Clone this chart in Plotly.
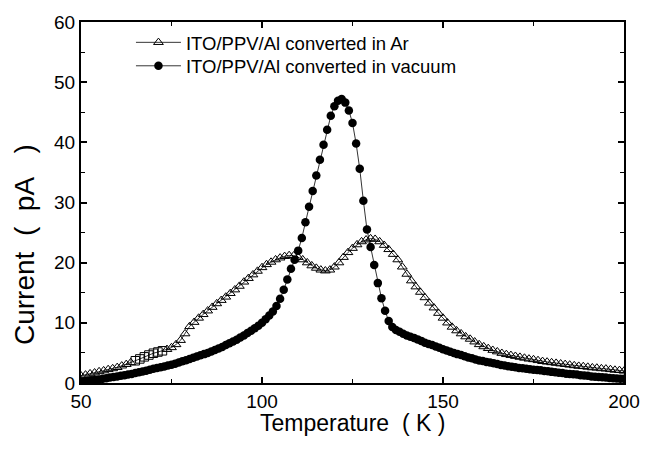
import plotly.graph_objects as go

# ---------------- data ----------------
temp_vac = list(range(50, 201))  # K, 1 K step
cur_vac = [
    0.25, 0.30, 0.38, 0.45, 0.53, 0.60, 0.70, 0.80, 0.90, 1.00,   # 50-59
    1.10, 1.20, 1.30, 1.40, 1.50, 1.65, 1.80, 1.90, 2.05, 2.20,   # 60-69
    2.35, 2.50, 2.60, 2.75, 2.90, 3.05, 3.20, 3.40, 3.60, 3.80,   # 70-79
    4.00, 4.20, 4.40, 4.60, 4.80, 5.00, 5.25, 5.50, 5.75, 6.00,   # 80-89
    6.30, 6.60, 6.90, 7.20, 7.55, 7.90, 8.30, 8.70, 9.10, 9.50,   # 90-99
    10.0, 10.6, 11.2, 11.9, 12.8, 14.0, 15.5, 17.2, 19.0, 20.5,   # 100-109
    22.0, 24.1, 26.7, 29.3, 31.9, 34.5, 37.1, 39.6, 42.1, 44.4,   # 110-119
    46.0, 46.9, 47.2, 46.6, 45.3, 43.2, 39.8, 35.6, 30.3, 25.5,   # 120-129
    22.6, 19.6, 16.6, 14.1, 12.0, 10.3, 9.3, 8.8, 8.5, 8.2,       # 130-139
    7.9, 7.7, 7.5, 7.25, 7.0, 6.7, 6.5, 6.3, 6.05, 5.85,          # 140-149
    5.6, 5.4, 5.2, 5.0, 4.8, 4.65, 4.45, 4.25, 4.1, 3.9,          # 150-159
    3.75, 3.65, 3.5, 3.4, 3.3, 3.15, 3.0, 2.9, 2.8, 2.7,          # 160-169
    2.6, 2.5, 2.45, 2.35, 2.3, 2.2, 2.15, 2.1, 2.0, 1.95,         # 170-179
    1.85, 1.8, 1.7, 1.65, 1.55, 1.5, 1.45, 1.4, 1.3, 1.25,        # 180-189
    1.2, 1.1, 1.05, 1.0, 0.95, 0.9, 0.85, 0.8, 0.75, 0.7,         # 190-199
    0.7,                                                          # 200
]

temp_ar = [50 + 1.25 * i for i in range(121)]  # K, 1.25 K step
cur_ar = [
    1.20, 1.35, 1.55, 1.70, 1.90, 2.05, 2.25, 2.40, 2.60, 2.85,
    3.10, 3.40, 3.70, 4.00, 4.35, 4.65, 4.95, 5.15, 5.35, 5.60,
    5.90, 6.40, 7.10, 8.20, 9.40, 10.10, 10.80, 11.40, 12.00, 12.60,
    13.20, 13.75, 14.30, 14.90, 15.50, 16.10, 16.80, 17.40, 18.00, 18.60,
    19.20, 19.70, 20.10, 20.50, 20.80, 21.05, 21.20, 21.15, 20.90, 20.50,
    20.00, 19.50, 19.10, 18.80, 18.65, 18.80, 19.30, 20.00, 20.90, 21.70,
    22.40, 23.00, 23.50, 23.80, 24.00, 23.90, 23.50, 22.90, 22.20, 21.40,
    20.50, 19.30, 18.10, 17.00, 16.00, 15.10, 14.20, 13.30, 12.50, 11.60,
    10.80, 10.00, 9.30, 8.70, 8.20, 7.70, 7.30, 6.85, 6.40, 6.05,
    5.75, 5.45, 5.20, 4.95, 4.75, 4.60, 4.45, 4.30, 4.15, 4.00,
    3.90, 3.75, 3.60, 3.50, 3.40, 3.30, 3.20, 3.10, 3.00, 2.90,
    2.80, 2.75, 2.65, 2.55, 2.50, 2.40, 2.35, 2.25, 2.15, 2.10,
    2.00,
]
# points of the Ar curve drawn with square symbols in the original
square_range = (64.5, 73.0)

x_ticks = [50, 100, 150, 200]
y_ticks = [0, 10, 20, 30, 40, 50, 60]

label_ar = "ITO/PPV/Al converted in Ar"
label_vac = "ITO/PPV/Al converted in vacuum"

# ---------------- figure ----------------
FONT = "Liberation Sans, Arial, Helvetica, sans-serif"

ar_symbols = ["square-open" if square_range[0] <= t <= square_range[1] else "triangle-up-open"
              for t in temp_ar]

fig = go.Figure()
fig.add_trace(go.Scatter(
    x=temp_ar, y=cur_ar, mode="lines+markers", name=label_ar, legend="legend",
    line=dict(color="black", width=0.8),
    marker=dict(symbol=ar_symbols, size=8.5, color="black", line=dict(color="black", width=1)),
))
fig.add_trace(go.Scatter(
    x=temp_vac, y=cur_vac, mode="lines+markers", name=label_vac, legend="legend2",
    line=dict(color="black", width=0.8),
    marker=dict(symbol="circle", size=8.5, color="black", line=dict(width=0)),
))

axis_common = dict(
    showline=True, linecolor="black", linewidth=2, mirror="allticks",
    ticks="inside", ticklen=6, tickwidth=1.5, tickcolor="black",
    showgrid=False, zeroline=False,
    tickfont=dict(family=FONT, size=19, color="black"),
)

fig.update_xaxes(range=[50, 200], tickvals=x_ticks,
                 minor=dict(dtick=25, ticks="inside", ticklen=4, tickwidth=1.2, tickcolor="black"),
                 **axis_common)
fig.update_yaxes(range=[0, 60], tickvals=y_ticks,
                 minor=dict(dtick=5, ticks="inside", ticklen=4, tickwidth=1.2, tickcolor="black"),
                 **axis_common)

fig.add_annotation(text="Temperature\u00a0\u00a0(\u00a0K\u00a0)", xref="paper", yref="paper",
                   x=0.5, y=-0.112, xanchor="center", yanchor="middle", showarrow=False,
                   font=dict(family=FONT, size=23, color="black"))
fig.add_annotation(text="Current\u00a0\u00a0(\u00a0\u00a0pA\u00a0\u00a0\u00a0)", xref="paper", yref="paper",
                   x=-0.105, y=0.385, xanchor="center", yanchor="middle", textangle=-90,
                   showarrow=False, font=dict(family=FONT, size=28, color="black"))

legend_common = dict(x=0.092, xanchor="left", yanchor="top", bgcolor="rgba(0,0,0,0)",
                     font=dict(family=FONT, size=18.5, color="black"), itemwidth=45)

fig.update_layout(
    width=652, height=453,
    margin=dict(l=81, r=28, t=14, b=70),
    plot_bgcolor="white", paper_bgcolor="white",
    font=dict(family=FONT, color="black"),
    showlegend=True,
    legend=dict(y=0.995, **legend_common),
    legend2=dict(y=0.930, **legend_common),
)

fig.write_html("out.html")
